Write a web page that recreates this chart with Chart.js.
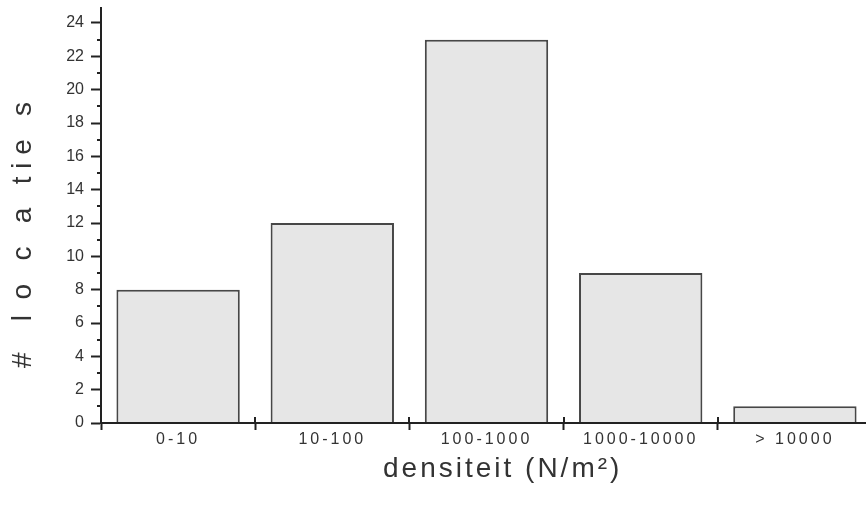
<!DOCTYPE html>
<html>
<head>
<meta charset="utf-8">
<script src="https://cdn.jsdelivr.net/npm/chart.js@4.4.1/dist/chart.umd.min.js"></script>
<style>
  html, body { margin: 0; padding: 0; background: #ffffff; overflow: hidden; width: 866px; height: 505px; }
  #wrap { width: 872px; height: 505px; position: relative; }
</style>
</head>
<body>
<div id="wrap"><canvas id="c" width="872" height="505"></canvas></div>
<script>
const categories = ['0-10', '10-100', '100-1000', '1000-10000', '> 10000'];
const locaties = [8, 12, 23, 9, 1];
const yTickValues = [0, 2, 4, 6, 8, 10, 12, 14, 16, 18, 20, 22, 24];
const yMinorValues = [1, 3, 5, 7, 9, 11, 13, 15, 17, 19, 21, 23];
const xTitle = '   densiteit (N/m²)';
const yTitle = '#    l  o   c   a   t i e   s     ';

Chart.defaults.font.family = "'Liberation Sans', Arial, sans-serif";
Chart.defaults.color = '#333333';

const spacingPlugin = {
  id: 'spacing',
  beforeDraw(chart) { chart.ctx.letterSpacing = '0px'; },
  afterDatasetsDraw(chart) { chart.ctx.letterSpacing = '3px'; },
  afterDraw(chart) {
    const ctx = chart.ctx;
    ctx.letterSpacing = '0px';
    const y = chart.scales.y, x = chart.scales.x;
    ctx.save();
    ctx.strokeStyle = '#222222';
    ctx.lineWidth = 2;
    yMinorValues.forEach(v => {
      const py = Math.round(y.getPixelForValue(v));
      ctx.beginPath();
      ctx.moveTo(y.right - 4, py);
      ctx.lineTo(y.right, py);
      ctx.stroke();
    });
    for (let i = 0; i <= categories.length; i++) {
      const px = Math.round(x.getPixelForValue(i - 0.5));
      ctx.beginPath();
      ctx.moveTo(px, x.top);
      ctx.lineTo(px, x.top - 6);
      ctx.stroke();
    }
    ctx.restore();
  }
};

new Chart(document.getElementById('c'), {
  type: 'bar',
  data: {
    labels: categories,
    datasets: [{
      data: locaties,
      backgroundColor: '#e6e6e6',
      borderColor: '#474747',
      borderWidth: 2,
      borderSkipped: 'bottom',
      barPercentage: 0.8,
      categoryPercentage: 1.0
    }]
  },
  options: {
    responsive: false,
    animation: false,
    devicePixelRatio: 1,
    layout: { padding: { top: 8, right: 0, left: 0, bottom: 0 } },
    plugins: { legend: { display: false }, tooltip: { enabled: false } },
    scales: {
      x: {
        offset: true,
        grid: { display: true, drawOnChartArea: false, offset: true, tickLength: 7, tickWidth: 2, tickColor: '#222222', z: 1 },
        border: { display: true, color: '#222222', width: 2, z: 1 },
        ticks: { autoSkip: false, maxRotation: 0, minRotation: 0, padding: 0, color: '#333333', font: { size: 16 }, z: 1 },
        title: { display: true, text: xTitle, color: '#333333', font: { size: 28 }, padding: { top: 0, bottom: 19 } },
        afterFit(scale) { scale.height = 82; scale.paddingLeft = 0; scale.paddingRight = 0; }
      },
      y: {
        min: 0,
        max: 24.9,
        afterBuildTicks(scale) { scale.ticks = yTickValues.map(v => ({ value: v })); },
        grid: { display: true, drawOnChartArea: false, tickLength: 10, tickWidth: 2, tickColor: '#222222' },
        border: { display: true, color: '#222222', width: 2 },
        ticks: { padding: 7, color: '#333333', font: { size: 16 } },
        title: { display: true, text: yTitle, color: '#333333', font: { size: 28 }, padding: { top: 6, bottom: 0 } },
        afterFit(scale) { scale.width = 101; scale.paddingTop = 0; scale.paddingBottom = 0; }
      }
    }
  },
  plugins: [spacingPlugin]
});
</script>
</body>
</html>
